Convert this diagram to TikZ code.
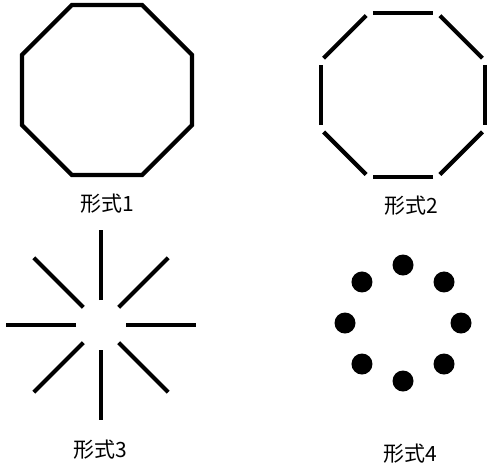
\documentclass[tikz,border=0pt]{standalone}
\usepackage{fontspec}
\newfontfamily\cjk{Noto Sans CJK JP}
\tikzset{
  side/.style={line width=4.2pt, line join=miter},
  gapside/.style={line width=4.2pt, shorten <=4pt, shorten >=4pt},
  ray/.style={line width=4.2pt},
  lbl/.style={font=\cjk\fontsize{21}{21}\selectfont, inner sep=0pt}}

\begin{document}
\begin{tikzpicture}[x=1pt, y=-1pt]
  \useasboundingbox (0,0) rectangle (490,467);
  % form 1
  \begin{scope}[shift={(107,90)}]
    \coordinate (a1) at (22.5:92);
    \coordinate (a2) at (67.5:92);
    \coordinate (a3) at (112.5:92);
    \coordinate (a4) at (157.5:92);
    \coordinate (a5) at (202.5:92);
    \coordinate (a6) at (247.5:92);
    \coordinate (a7) at (292.5:92);
    \coordinate (a8) at (337.5:92);
    \draw [side] (a1) -- (a2) -- (a3) -- (a4) -- (a5) -- (a6) -- (a7) -- (a8) -- cycle;
  \end{scope}
  \node [lbl] (f1) at (107,204) {形式1};
  % form 2
  \begin{scope}[shift={(403,95)}]
    \coordinate (b1) at (22.5:89);
    \coordinate (b2) at (67.5:89);
    \coordinate (b3) at (112.5:89);
    \coordinate (b4) at (157.5:89);
    \coordinate (b5) at (202.5:89);
    \coordinate (b6) at (247.5:89);
    \coordinate (b7) at (292.5:89);
    \coordinate (b8) at (337.5:89);
    \draw [gapside] (b1) -- (b2);
    \draw [gapside] (b2) -- (b3);
    \draw [gapside] (b3) -- (b4);
    \draw [gapside] (b4) -- (b5);
    \draw [gapside] (b5) -- (b6);
    \draw [gapside] (b6) -- (b7);
    \draw [gapside] (b7) -- (b8);
    \draw [gapside] (b8) -- (b1);
  \end{scope}
  \node [lbl] (f2) at (411,206) {形式2};
  % form 3
  \begin{scope}[shift={(101,325)}]
    \coordinate (c1) at (0:25);   \coordinate (d1) at (0:95);
    \coordinate (c2) at (45:25);  \coordinate (d2) at (45:95);
    \coordinate (c3) at (90:25);  \coordinate (d3) at (90:95);
    \coordinate (c4) at (135:25); \coordinate (d4) at (135:95);
    \coordinate (c5) at (180:25); \coordinate (d5) at (180:95);
    \coordinate (c6) at (225:25); \coordinate (d6) at (225:95);
    \coordinate (c7) at (270:25); \coordinate (d7) at (270:95);
    \coordinate (c8) at (315:25); \coordinate (d8) at (315:95);
    \draw [ray] (c1) -- (d1);
    \draw [ray] (c2) -- (d2);
    \draw [ray] (c3) -- (d3);
    \draw [ray] (c4) -- (d4);
    \draw [ray] (c5) -- (d5);
    \draw [ray] (c6) -- (d6);
    \draw [ray] (c7) -- (d7);
    \draw [ray] (c8) -- (d8);
  \end{scope}
  \node [lbl] (f3) at (100,450) {形式3};
  % form 4
  \begin{scope}[shift={(403,323)}]
    \coordinate (e1) at (0:58);
    \coordinate (e2) at (45:58);
    \coordinate (e3) at (90:58);
    \coordinate (e4) at (135:58);
    \coordinate (e5) at (180:58);
    \coordinate (e6) at (225:58);
    \coordinate (e7) at (270:58);
    \coordinate (e8) at (315:58);
    \fill (e1) circle (10.5);
    \fill (e2) circle (10.5);
    \fill (e3) circle (10.5);
    \fill (e4) circle (10.5);
    \fill (e5) circle (10.5);
    \fill (e6) circle (10.5);
    \fill (e7) circle (10.5);
    \fill (e8) circle (10.5);
  \end{scope}
  \node [lbl] (f4) at (410,454) {形式4};
\end{tikzpicture}
\end{document}
